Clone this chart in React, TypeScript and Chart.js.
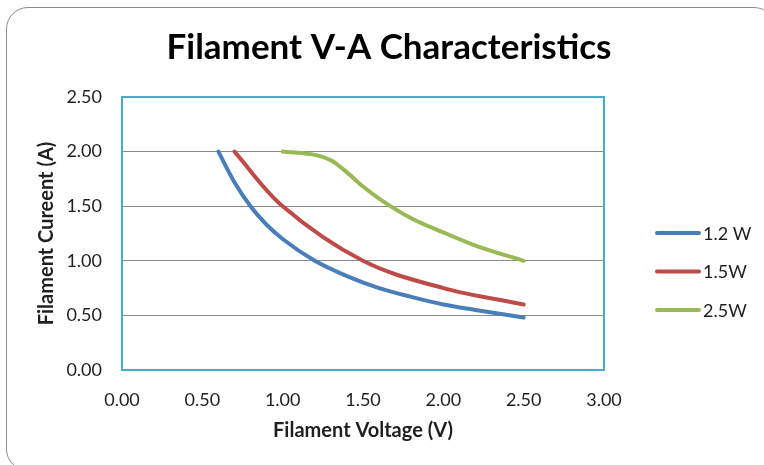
import React, { useEffect, useRef } from "react";
import { Chart, registerables } from "chart.js";

Chart.register(...registerables);

const chartTitle = "Filament V-A Characteristics";
const xAxisTitle = "Filament Voltage (V)";
const yAxisTitle = "Filament Cureent (A)";

const seriesLabels = ["1.2 W", "1.5W", "2.5W"];

const voltage12 = [0.6, 0.7, 0.8, 0.9, 1.0, 1.2, 1.4, 1.6, 1.8, 2.0, 2.2, 2.5];
const current12 = [2.0, 1.72, 1.5, 1.33, 1.2, 1.0, 0.86, 0.75, 0.67, 0.6, 0.55, 0.48];

const voltage15 = [0.7, 1.0, 1.5, 2.0, 2.5];
const current15 = [2.0, 1.5, 1.0, 0.75, 0.6];

const voltage25 = [1.0, 1.1, 1.2, 1.3, 1.4, 1.5, 1.6, 1.8, 2.0, 2.2, 2.5];
const current25 = [2.0, 1.99, 1.97, 1.92, 1.81, 1.68, 1.57, 1.39, 1.26, 1.14, 1.0];

const xMin = 0;
const xMax = 3;
const xStep = 0.5;
const yMin = 0;
const yMax = 2.5;
const yStep = 0.5;

const colors = ["#4A7EBB", "#BE4B48", "#98B954"];

const toPoints = (xs: number[], ys: number[]) => xs.map((x, i) => ({ x, y: ys[i] }));

const FONT = "Lato, 'Open Sans', sans-serif";
const TEXT_COLOR = "#1f1f1f";

const framePlugin = {
  id: "frame",
  beforeDatasetsDraw(chart: any) {
    const { ctx, chartArea } = chart;
    ctx.save();
    ctx.strokeStyle = "#4BACC6";
    ctx.lineWidth = 2;
    ctx.strokeRect(chartArea.left, chartArea.top, chartArea.right - chartArea.left, chartArea.bottom - chartArea.top);
    ctx.restore();
  },
};

const titlePlugin = {
  id: "customTitle",
  afterDraw(chart: any) {
    const { ctx } = chart;
    ctx.save();
    ctx.font = `bold 35px ${FONT}`;
    ctx.fillStyle = "#000000";
    ctx.textAlign = "center";
    ctx.textBaseline = "alphabetic";
    ctx.fillText(chartTitle, 389, 59);
    ctx.restore();
  },
};

const legendPlugin = {
  id: "customLegend",
  afterDraw(chart: any) {
    const { ctx } = chart;
    ctx.save();
    chart.data.datasets.forEach((ds: any, i: number) => {
      const y = 233 + i * 38.5;
      ctx.strokeStyle = ds.borderColor;
      ctx.lineWidth = 4;
      ctx.lineCap = "round";
      ctx.beginPath();
      ctx.moveTo(657, y);
      ctx.lineTo(699, y);
      ctx.stroke();
      ctx.font = `18px ${FONT}`;
      ctx.fillStyle = TEXT_COLOR;
      ctx.textAlign = "left";
      ctx.textBaseline = "middle";
      ctx.fillText(ds.label, 703, y + 1);
    });
    ctx.restore();
  },
};

export default function App() {
  const canvasRef = useRef<HTMLCanvasElement | null>(null);

  useEffect(() => {
    if (!canvasRef.current) return;
    const series = [
      toPoints(voltage12, current12),
      toPoints(voltage15, current15),
      toPoints(voltage25, current25),
    ];
    const modes = ["monotone", "default", "monotone"];
    const chart = new Chart(canvasRef.current, {
      type: "line",
      data: {
        datasets: series.map((pts, i) => ({
          label: seriesLabels[i],
          data: pts,
          borderColor: colors[i],
          backgroundColor: colors[i],
          borderWidth: 4,
          pointRadius: 0,
          pointHoverRadius: 0,
          cubicInterpolationMode: modes[i] as any,
          tension: 0.35,
          fill: false,
          borderCapStyle: "round" as const,
        })),
      },
      options: {
        animation: false,
        responsive: false,
        layout: { padding: { left: 0, top: 97, right: 160, bottom: 0 } },
        plugins: {
          legend: { display: false },
          title: { display: false },
          tooltip: { enabled: false },
        },
        scales: {
          x: {
            type: "linear",
            min: xMin,
            max: xMax,
            grid: { display: false, drawTicks: false },
            border: { display: false },
            ticks: {
              stepSize: xStep,
              padding: 19,
              color: TEXT_COLOR,
              font: { family: FONT, size: 18 },
              callback: (v: any) => Number(v).toFixed(2),
            },
            title: {
              display: true,
              text: xAxisTitle,
              color: TEXT_COLOR,
              font: { family: FONT, size: 20, weight: "bold" },
              padding: 22,
            },
            afterFit: (scale: any) => {
              scale.height = 95;
            },
          },
          y: {
            type: "linear",
            min: yMin,
            max: yMax,
            grid: { color: "#8a8a8a", lineWidth: 1, drawTicks: false },
            border: { display: false },
            ticks: {
              stepSize: yStep,
              padding: 20,
              color: TEXT_COLOR,
              font: { family: FONT, size: 18 },
              callback: (v: any) => Number(v).toFixed(2),
            },
            title: {
              display: true,
              text: yAxisTitle,
              color: TEXT_COLOR,
              font: { family: FONT, size: 20, weight: "bold" },
              padding: 35,
            },
            afterFit: (scale: any) => {
              scale.width = 122;
            },
          },
        },
      },
      plugins: [framePlugin, titlePlugin, legendPlugin],
    });
    return () => chart.destroy();
  }, []);

  return (
    <div style={{ position: "fixed", left: 0, top: 0, width: 764, height: 465, overflow: "hidden", background: "#ffffff" }}>
      <div
        style={{
          position: "absolute",
          left: 6,
          top: 7,
          width: 770,
          height: 464,
          border: "1.5px solid #8c8c8c",
          borderRadius: 22,
          boxSizing: "border-box",
        }}
      />
      <canvas ref={canvasRef} width={764} height={465} style={{ position: "absolute", left: 0, top: 0, width: 764, height: 465 }} />
    </div>
  );
}
